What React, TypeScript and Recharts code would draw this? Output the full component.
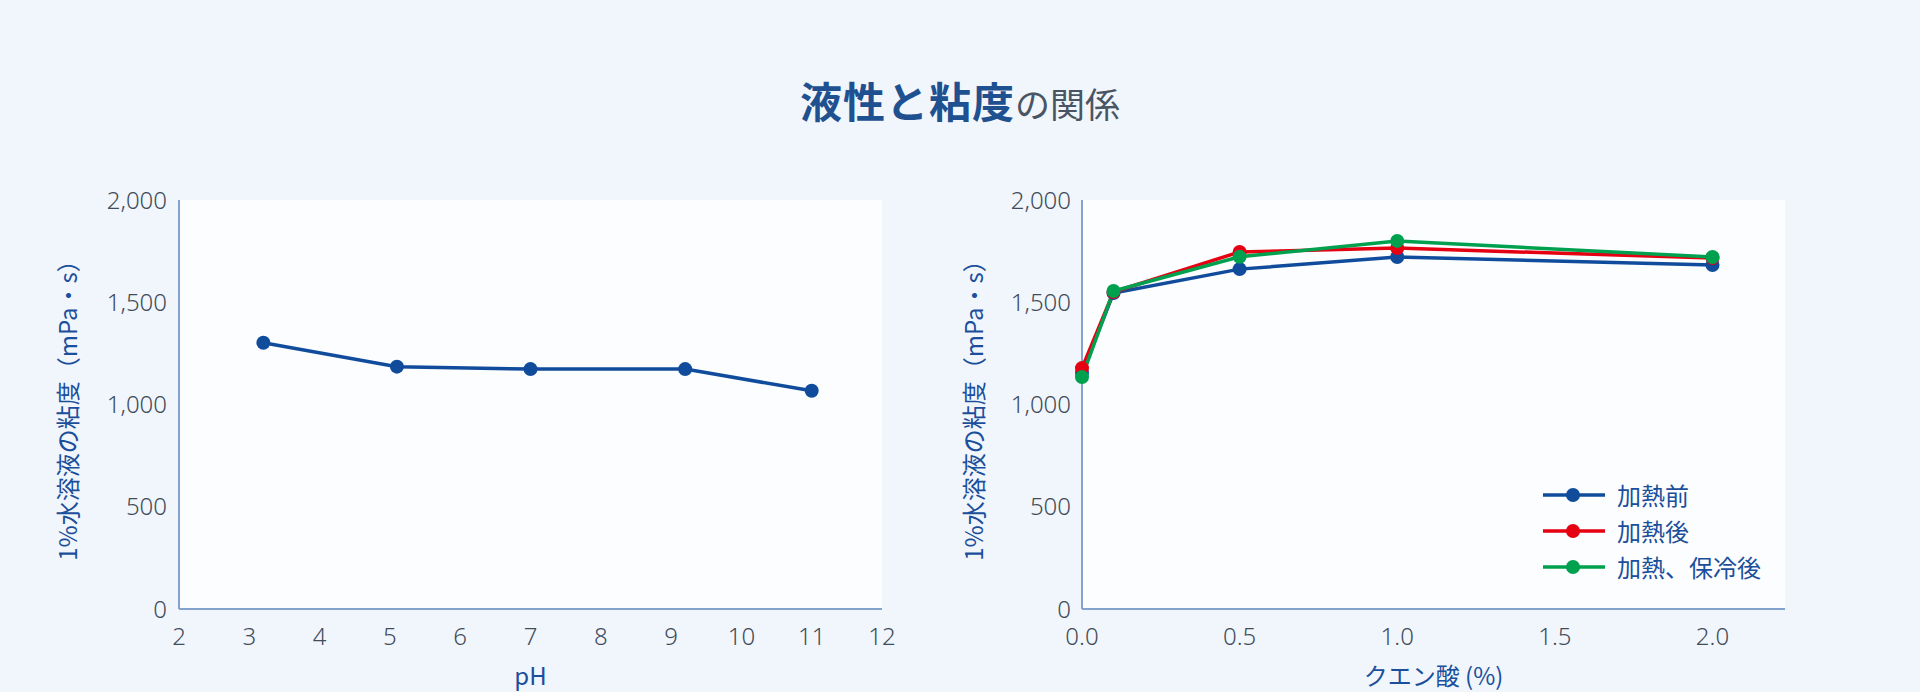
import { LineChart, Line, XAxis, YAxis, CartesianGrid } from "recharts";

// pH vs viscosity
const phValues = [3.2, 5.1, 7.0, 9.2, 11.0];
const phViscosity = [1302, 1185, 1173, 1173, 1067];
const phTicks = [2, 3, 4, 5, 6, 7, 8, 9, 10, 11, 12];

// citric acid vs viscosity
const citricAcid = [0, 0.1, 0.5, 1.0, 2.0];
const beforeHeating = [1155, 1545, 1662, 1721, 1682];
const afterHeating = [1178, 1550, 1746, 1765, 1716];
const afterCooling = [1134, 1555, 1722, 1800, 1721];
const citricTicks = [0, 0.5, 1.0, 1.5, 2.0];

const viscosityTicks = [0, 500, 1000, 1500, 2000];
const seriesNames = ["加熱前", "加熱後", "加熱、保冷後"];
const seriesColors = ["#114c9c", "#e50012", "#00a14e"];

const BG = "#f1f6fc";
const PLOT_BG = "#fbfdff";
const AXIS = "#83a2cc";
const TICK = "#414c5a";
const LABEL = "#1b4f9b";
const JP = "'Noto Sans CJK JP', 'Noto Sans', sans-serif";

const phData = phValues.map((ph, i) => ({ ph, v: phViscosity[i] }));
const citricData = citricAcid.map((c, i) => ({
  c,
  s0: beforeHeating[i],
  s1: afterHeating[i],
  s2: afterCooling[i],
}));

const tickStyle = { fontSize: 24, fill: TICK, fontFamily: "'Noto Sans', sans-serif", fontWeight: 300 };
const fmtThousands = (v: number) => v.toLocaleString("en-US");

const yLabel = (x: number) => (props: any) => {
  const vb = props.viewBox;
  const cy = vb.y + vb.height / 2;
  return (
    <text
      x={x}
      y={cy}
      transform={`rotate(-90 ${x} ${cy})`}
      textAnchor="middle"
      dominantBaseline="central"
      fill={LABEL}
      fontSize={24}
      fontFamily={JP}
    >
      1%水溶液の粘度（mPa・s）
    </text>
  );
};

const xLabel = (text: string) => (props: any) => {
  const vb = props.viewBox;
  return (
    <text
      x={vb.x + vb.width / 2}
      y={vb.y + 76}
      textAnchor="middle"
      fill={LABEL}
      fontSize={24}
      fontFamily={JP}
    >
      {text}
    </text>
  );
};

function Legend() {
  return (
    <div style={{ position: "absolute", left: 1542, top: 477, fontFamily: JP }}>
      {seriesNames.map((name, i) => (
        <div key={name} style={{ display: "flex", alignItems: "center", height: 36 }}>
          <svg width={64} height={36}>
            <line x1={1} y1={18} x2={63} y2={18} stroke={seriesColors[i]} strokeWidth={3.5} />
            <circle cx={31} cy={18} r={7} fill={seriesColors[i]} />
          </svg>
          <span style={{ marginLeft: 11, fontSize: 24, color: LABEL, lineHeight: "36px" }}>{name}</span>
        </div>
      ))}
    </div>
  );
}

export default function App() {
  return (
    <div style={{ position: "fixed", left: 0, top: 0, width: 1920, height: 692, background: BG, overflow: "hidden" }}>
      <div
        style={{
          position: "absolute",
          top: 72,
          width: 1920,
          height: 56,
          lineHeight: "56px",
          textAlign: "center",
          fontFamily: JP,
        }}
      >
        <span style={{ fontSize: 42, fontWeight: 700, color: "#1f5191", letterSpacing: 1 }}>液性と粘度</span>
        <span style={{ fontSize: 35, fontWeight: 400, color: "#4a5563" }}>の関係</span>
      </div>

      <div style={{ position: "absolute", left: 0, top: 0 }}>
        <LineChart width={900} height={692} data={phData} margin={{ top: 200, right: 18, bottom: 0, left: 0 }}>
          <CartesianGrid horizontal={false} vertical={false} fill={PLOT_BG} stroke="none" />
          <XAxis
            dataKey="ph"
            type="number"
            domain={[2, 12]}
            ticks={phTicks}
            height={83}
            tickLine={false}
            tickMargin={13}
            axisLine={{ stroke: AXIS, strokeWidth: 2 }}
            tick={tickStyle}
            interval={0}
            label={xLabel("pH")}
          />
          <YAxis
            type="number"
            domain={[0, 2000]}
            ticks={viscosityTicks}
            width={179}
            tickLine={false}
            tickMargin={6}
            axisLine={{ stroke: AXIS, strokeWidth: 2 }}
            tick={tickStyle}
            tickFormatter={fmtThousands}
            interval={0}
            label={yLabel(66)}
          />
          <Line
            dataKey="v"
            stroke={seriesColors[0]}
            strokeWidth={3.5}
            dot={{ r: 7, fill: seriesColors[0], stroke: seriesColors[0], strokeWidth: 0 }}
            activeDot={false}
            isAnimationActive={false}
          />
        </LineChart>
      </div>

      <div style={{ position: "absolute", left: 900, top: 0 }}>
        <LineChart width={1020} height={692} data={citricData} margin={{ top: 200, right: 135, bottom: 0, left: 0 }}>
          <CartesianGrid horizontal={false} vertical={false} fill={PLOT_BG} stroke="none" />
          <XAxis
            dataKey="c"
            type="number"
            domain={[0, 2.23]}
            ticks={citricTicks}
            height={83}
            tickLine={false}
            tickMargin={13}
            axisLine={{ stroke: AXIS, strokeWidth: 2 }}
            tick={tickStyle}
            tickFormatter={(v: number) => v.toFixed(1)}
            interval={0}
            label={xLabel("クエン酸 (%)")}
          />
          <YAxis
            type="number"
            domain={[0, 2000]}
            ticks={viscosityTicks}
            width={182}
            tickLine={false}
            tickMargin={5}
            axisLine={{ stroke: AXIS, strokeWidth: 2 }}
            tick={tickStyle}
            tickFormatter={fmtThousands}
            interval={0}
            label={yLabel(72)}
          />
          {["s0", "s1", "s2"].map((key, i) => (
            <Line
              key={key}
              dataKey={key}
              name={seriesNames[i]}
              stroke={seriesColors[i]}
              strokeWidth={3.5}
              dot={{ r: 7, fill: seriesColors[i], stroke: seriesColors[i], strokeWidth: 0 }}
              activeDot={false}
              isAnimationActive={false}
            />
          ))}
        </LineChart>
      </div>

      <Legend />
    </div>
  );
}
